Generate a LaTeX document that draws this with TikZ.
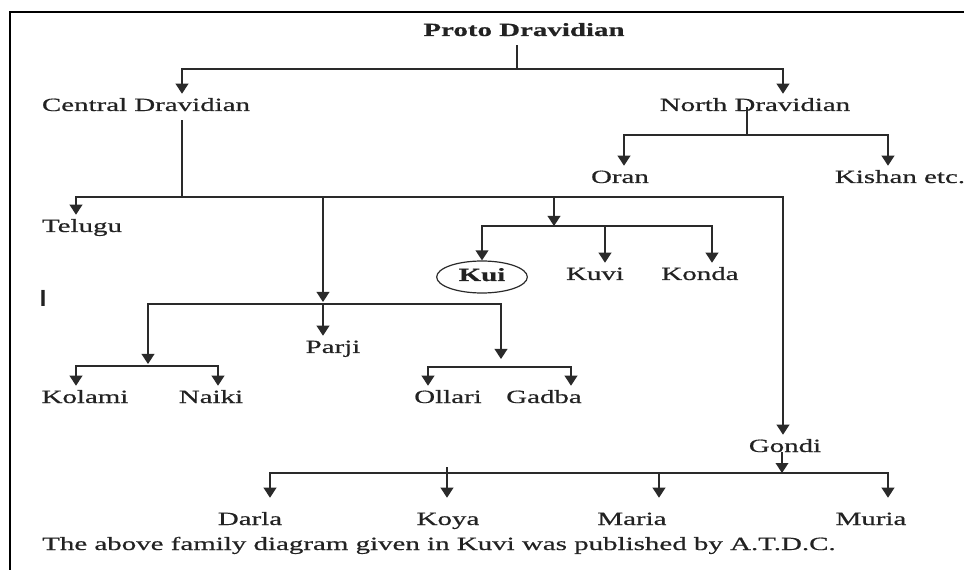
\documentclass[tikz,border=0pt]{standalone}
\usepackage{fontspec}
\setmainfont[FakeStretch=1.55, FakeBold=0.6,
  BoldFeatures={FakeStretch=1.55, FakeBold=0.6}]{Liberation Serif}
\newfontfamily\barfont{Liberation Sans}
\usetikzlibrary{arrows.meta,shapes.geometric}
\definecolor{ink}{HTML}{222222}
\definecolor{wire}{HTML}{2A2A2A}
\tikzset{
  lbl/.style={font=\fontsize{14}{16}\selectfont, anchor=base, inner xsep=0pt,
    inner ysep=3.75pt, text height=9pt, text depth=3pt, text=ink},
  arr/.style={draw=wire, line width=1.2pt, -{Triangle[width=9.5pt,length=7.5pt]}},
  wireline/.style={draw=wire, line width=1.2pt},
  frameline/.style={draw=black, line width=1.7pt}
}
\begin{document}
\begin{tikzpicture}[x=0.75pt,y=-0.75pt]
\useasboundingbox (0,0) rectangle (964,570);
% page frame (top and left rules)
\draw[frameline] (10,570) -- (10,12) -- (964,12);

% language names
\node[lbl, font=\fontsize{14}{16}\selectfont\bfseries] (proto) at (524,36) {Proto Dravidian};
\node[lbl] (central) at (146,111) {Central Dravidian};
\node[lbl] (north) at (755,111) {North Dravidian};
\node[lbl] (oran) at (620,183) {Oran};
\node[lbl] (kishan) at (900,183) {Kishan etc.};
\node[lbl] (telugu) at (82,232) {Telugu};
\node[draw=wire, line width=0.9pt, ellipse, minimum width=68pt, minimum height=24pt,
      inner sep=0pt, text height=9pt, text depth=3pt, text=ink,
      font=\fontsize{14}{16}\selectfont\bfseries] (kui) at (482,277) {Kui};
\node[lbl] (kuvi) at (595,280) {Kuvi};
\node[lbl] (konda) at (700,280) {Konda};
\node[lbl] (parji) at (333,353) {Parji};
\node[lbl] (kolami) at (85,403) {Kolami};
\node[lbl] (naiki) at (211,403) {Naiki};
\node[lbl] (ollari) at (448,403) {Ollari};
\node[lbl] (gadba) at (544,403) {Gadba};
\node[lbl] (gondi) at (785,452) {Gondi};
\node[lbl] (darla) at (250,525) {Darla};
\node[lbl] (koya) at (448,525) {Koya};
\node[lbl] (maria) at (632,525) {Maria};
\node[lbl] (muria) at (871,525) {Muria};
\node[lbl, anchor=base west] (caption) at (42,550)
  {The above family diagram given in Kuvi was published by A.T.D.C.};
\node[font=\barfont\bfseries\fontsize{17.5}{18}\selectfont, text=ink, inner sep=0pt,
      anchor=base] (mark) at (43,307) {I};

% junctions of the tree
\coordinate (pj) at (517,69);
\coordinate (nj) at (747,135);
\coordinate (cj) at (182,197);
\coordinate (kj) at (554,226);
\coordinate (sj) at (323,304);
\coordinate (kn) at (148,366);
\coordinate (og) at (501,367);
\coordinate (gj) at (782,473);

% Proto Dravidian branches
\draw[wireline] (pj |- proto.south) -- (pj);
\draw[arr] (pj) -| (182,0 |- central.north);
\draw[arr] (pj) -| (783,0 |- north.north);

% North Dravidian branches
\draw[wireline] (nj |- north.center) -- (nj);
\draw[arr] (nj) -| (624,0 |- oran.north);
\draw[arr] (nj) -| (888,0 |- kishan.north);

% Central Dravidian branches
\draw[wireline] (cj |- central.south) -- (cj);
\draw[arr] (cj) -| (76,0 |- telugu.north);
\draw[arr] (cj) -| (783,0 |- gondi.north);
\draw[arr] (cj -| sj) -- ([yshift=1.5pt]sj);
\draw[arr] (cj -| kj) -- (kj);

% Kui group
\draw[arr] (kj) -| (kui.north);
\draw[arr] (kj) -| (605,0 |- kuvi.north);
\draw[arr] (kj) -| (712,0 |- konda.north);

% Parji group
\draw[arr] (sj) -| ([yshift=1.5pt]kn);
\draw[arr] (sj) -- (sj |- parji.north);
\draw[arr] (sj) -| ([yshift=6pt]og);

% Kolami / Naiki
\draw[arr] (kn) -| (76,0 |- kolami.north);
\draw[arr] (kn) -| (218,0 |- naiki.north);

% Ollari / Gadba
\draw[wireline] (428,0 |- og) -- (571,0 |- og);
\draw[arr] (og) -| (428,0 |- ollari.north);
\draw[arr] (og) -| (571,0 |- gadba.north);

% Gondi group
\draw[arr] (gj |- gondi.base) -- (gj);
\draw[arr] (gj) -| ([yshift=7.5pt]270,0 |- darla.north);
\draw[arr] (447,467) -- ([yshift=7.5pt]447,0 |- koya.north);
\draw[wireline] (270,0 |- gj) -- (gj);
\draw[arr] (gj) -| ([yshift=7.5pt]659,0 |- maria.north);
\draw[arr] (gj) -| ([yshift=7.5pt]888,0 |- muria.north);
\end{tikzpicture}
\end{document}
